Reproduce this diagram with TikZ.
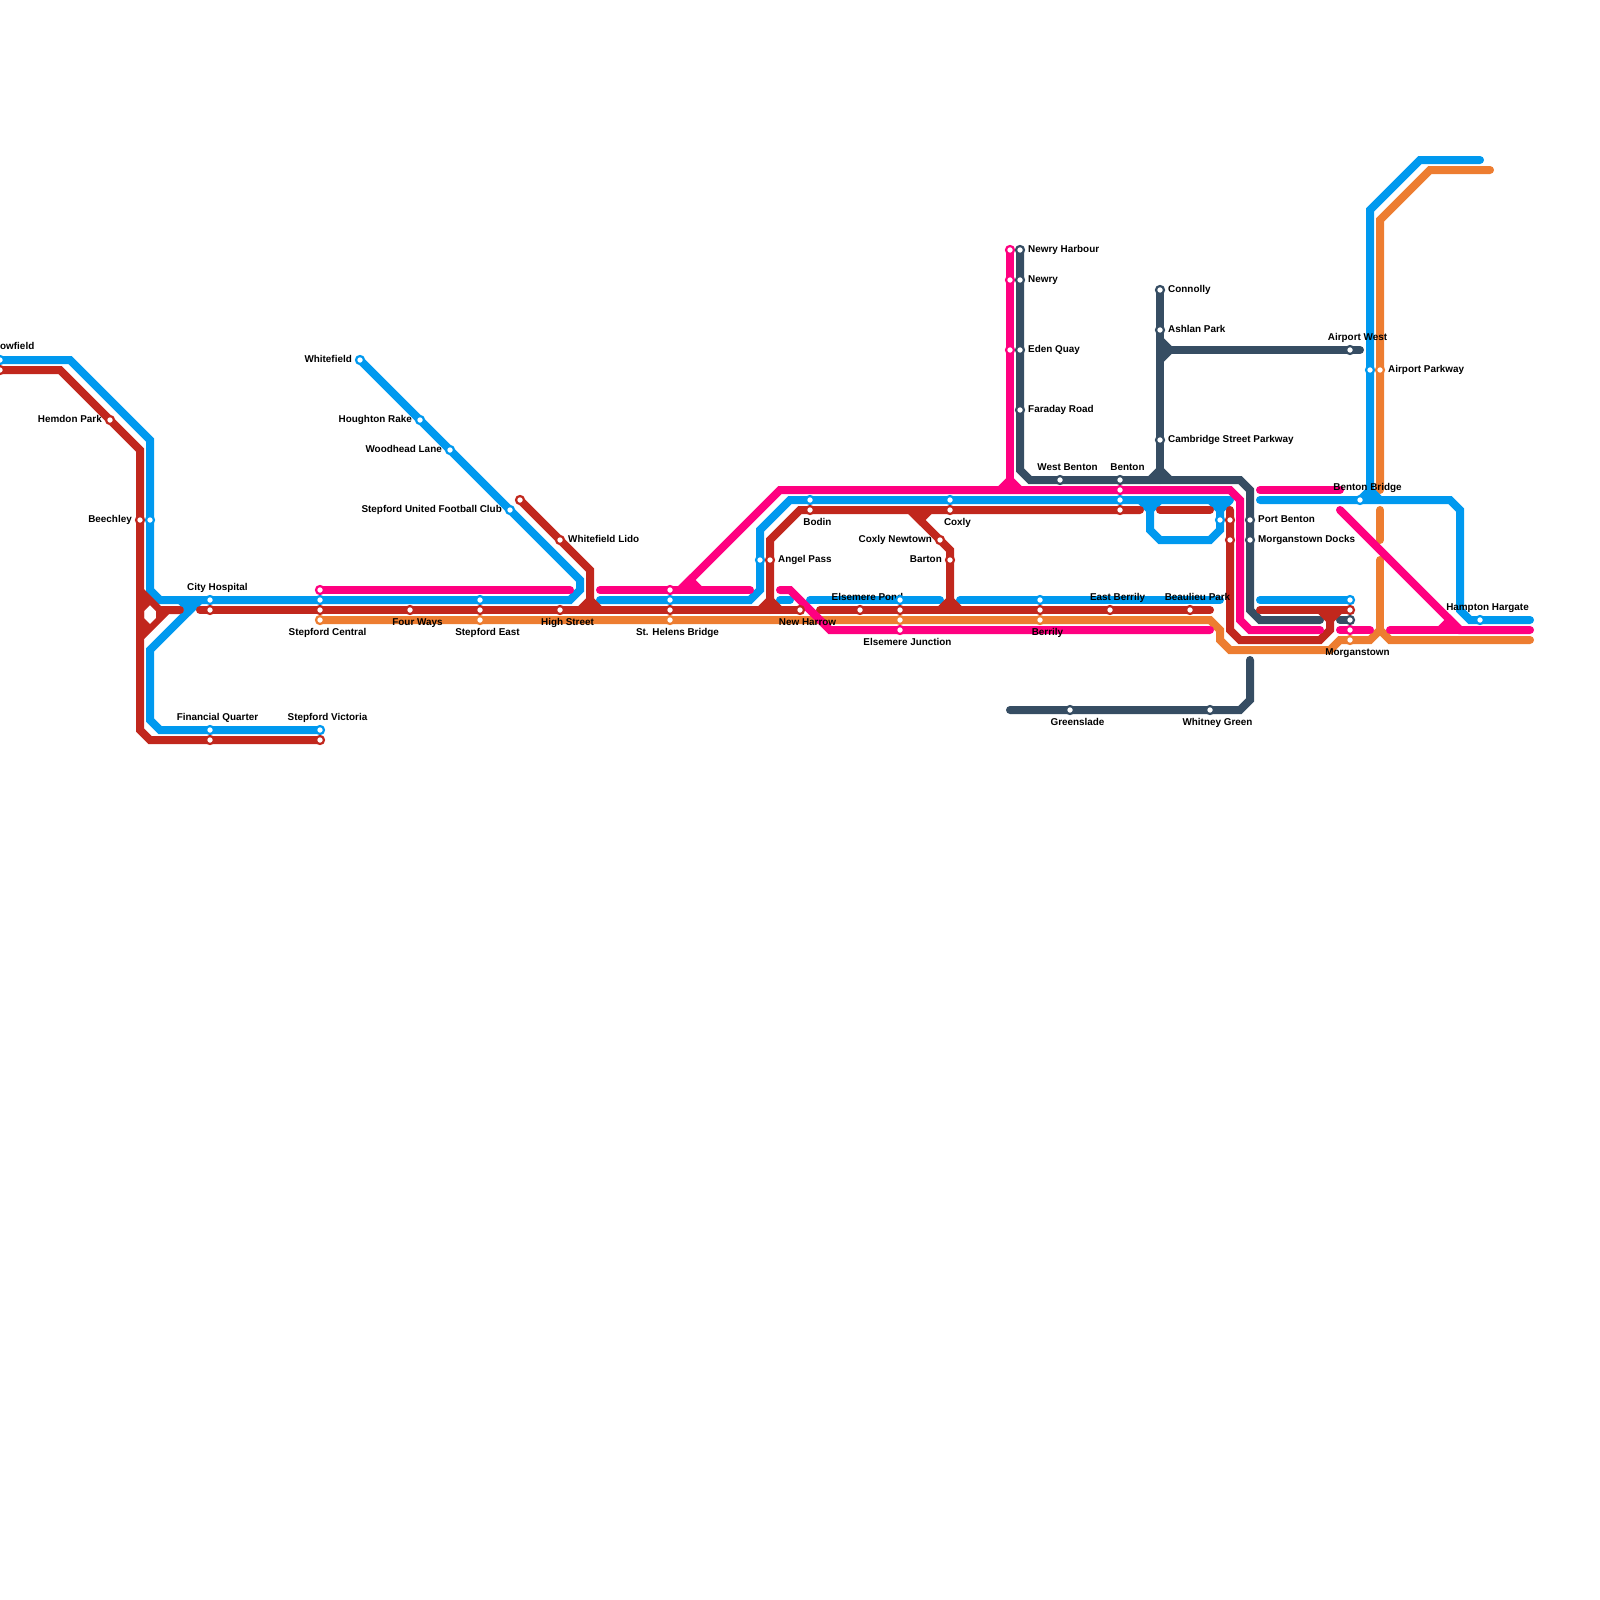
\documentclass[tikz,border=0pt]{standalone}
\usepackage{fontspec}
\setmainfont{Liberation Sans}
\pgfdeclarelayer{lines}
\pgfdeclarelayer{labels}
\pgfsetlayers{lines,labels,main}
\definecolor{cblue}{HTML}{0099EF}
\definecolor{cred}{HTML}{C1271D}
\definecolor{cpink}{HTML}{FF0080}
\definecolor{corange}{HTML}{ED7D31}
\definecolor{cdark}{HTML}{364D63}
\tikzset{
  x=1pt,y=-1pt,
  stn/.style={circle,fill=white,line width=2.2pt,inner sep=0pt,minimum size=8pt,draw=#1},
  route/.style={line width=8pt,line cap=round,line join=miter,draw=#1},
  lab/.style={font=\bfseries\fontsize{9.9}{12}\selectfont,text=black,inner sep=0pt},
  labR/.style={lab,anchor=base west},
  labL/.style={lab,anchor=base east},
  labC/.style={lab,anchor=base}
}
\newcommand\st[4]{\node[stn=#1] (#2) at (#3,#4) {};}
\newcommand\jup[3]{\fill[#1] (#2,#3) ++(0,-15.7) -- ++(12.8,12.9) -- ++(-5.8,5.8) -- ++(-14,0) -- ++(-5.8,-5.8) -- cycle;}
\newcommand\jdn[3]{\fill[#1] (#2,#3) ++(0,15.7) -- ++(12.8,-12.9) -- ++(-5.8,-5.8) -- ++(-14,0) -- ++(-5.8,5.8) -- cycle;}
\begin{document}
\begin{tikzpicture}
\path[clip] (0,0) rectangle (1600,1600);
% stations: blue
\st{cblue}{bOw}{0}{360}\st{cblue}{bBee}{150}{520}\st{cblue}{bCity}{210}{600}\st{cblue}{bSC}{320}{600}
\st{cblue}{bSE}{480}{600}\st{cblue}{bWf}{360}{360}\st{cblue}{bHR}{420}{420}\st{cblue}{bWL}{450}{450}
\st{cblue}{bUFC}{510}{510}\st{cblue}{bSV}{320}{730}\st{cblue}{bFQ}{210}{730}\st{cblue}{bSH}{670}{600}
\st{cblue}{bAng}{760}{560}\st{cblue}{bBod}{810}{500}\st{cblue}{bCox}{950}{500}\st{cblue}{bBen}{1120}{500}
\st{cblue}{bLoop}{1220}{520}\st{cblue}{bEJ}{900}{600}\st{cblue}{bBer}{1040}{600}\st{cblue}{bMor}{1350}{600}
\st{cblue}{bBB}{1360}{500}\st{cblue}{bHH}{1480}{620}\st{cblue}{bAir}{1370}{370}
% red
\st{cred}{rOw}{0}{370}\st{cred}{rHem}{110}{420}\st{cred}{rBee}{140}{520}\st{cred}{rCity}{210}{610}
\st{cred}{rFQ}{210}{740}\st{cred}{rSV}{320}{740}\st{cred}{rSC}{320}{610}\st{cred}{rFW}{410}{610}
\st{cred}{rSE}{480}{610}\st{cred}{rHS}{560}{610}\st{cred}{rSH}{670}{610}\st{cred}{rAng}{770}{560}
\st{cred}{rNH}{800}{610}\st{cred}{rBod}{810}{510}\st{cred}{rCox}{950}{510}\st{cred}{rBen}{1120}{510}
\st{cred}{rCN}{940}{540}\st{cred}{rBar}{950}{560}\st{cred}{rEP}{860}{610}\st{cred}{rEJ}{900}{610}
\st{cred}{rBer}{1040}{610}\st{cred}{rEB}{1110}{610}\st{cred}{rBP}{1190}{610}\st{cred}{rPB}{1230}{520}
\st{cred}{rMD}{1230}{540}\st{cred}{rMor}{1350}{610}\st{cred}{rWS}{520}{500}\st{cred}{rLido}{560}{540}
% orange
\st{corange}{oSC}{320}{620}\st{corange}{oSE}{480}{620}\st{corange}{oSH}{670}{620}\st{corange}{oEJ}{900}{620}
\st{corange}{oBer}{1040}{620}\st{corange}{oMor}{1350}{640}\st{corange}{oAir}{1380}{370}
% pink
\st{cpink}{pSC}{320}{590}\st{cpink}{pSH}{670}{590}\st{cpink}{pNH}{1010}{250}\st{cpink}{pN}{1010}{280}
\st{cpink}{pEQ}{1010}{350}\st{cpink}{pBen}{1120}{490}\st{cpink}{pEJ}{900}{630}\st{cpink}{pMor}{1350}{630}
% dark
\st{cdark}{dNH}{1020}{250}\st{cdark}{dN}{1020}{280}\st{cdark}{dEQ}{1020}{350}\st{cdark}{dFR}{1020}{410}
\st{cdark}{dWB}{1060}{480}\st{cdark}{dBen}{1120}{480}\st{cdark}{dCon}{1160}{290}\st{cdark}{dAsh}{1160}{330}
\st{cdark}{dCam}{1160}{440}\st{cdark}{dAW}{1350}{350}\st{cdark}{dPB}{1250}{520}\st{cdark}{dMD}{1250}{540}
\st{cdark}{dMor}{1350}{620}\st{cdark}{dGr}{1070}{710}\st{cdark}{dWG}{1210}{710}

\begin{pgfonlayer}{lines}
% orange
\draw[route=corange] (oSC.center) -- (1210,620) -- (1220,630) -- (1220,640) -- (1230,650) -- (1330,650) -- (1340,640) -- (oMor.center) -- (1370,640) -- (1380,630) -- (1390,640) -- (1530,640);
\draw[route=corange] (1490,170) -- (1430,170) -- (1380,220) -- (oAir.center) -- (1380,490);
\draw[route=corange] (1380,510) -- (1380,540);
\draw[route=corange] (1380,560) -- (1380,630);
% dark
\draw[route=cdark] (dNH.center) -- (dFR.center) -- (1020,470) -- (1030,480) -- (1240,480) -- (1250,490) -- (dMD.center) -- (1250,610) -- (1260,620) -- (1320,620);
\draw[route=cdark] (1340,620) -- (dMor.center);
\draw[route=cdark] (dCon.center) -- (1160,480);
\draw[route=cdark] (1160,350) -- (1360,350);
\draw[route=cdark] (1010,710) -- (1240,710) -- (1250,700) -- (1250,660);
\jup{cdark}{1160}{480}
\fill[cdark] (1175.7,350) -- (1162.8,337.2) -- (1157,343) -- (1157,357) -- (1162.8,362.8) -- cycle;
% blue
\draw[route=cblue] (bOw.center) -- (70,360) -- (150,440) -- (150,590) -- (160,600) -- (570,600) -- (580,590) -- (580,580) -- (bWf.center);
\draw[route=cblue] (200,600) -- (150,650) -- (150,720) -- (160,730) -- (bSV.center);
\draw[route=cblue] (600,600) -- (750,600) -- (760,590) -- (760,530) -- (790,500) -- (1230,500);
\draw[route=cblue] (1150,500) -- (1150,530) -- (1160,540) -- (1210,540) -- (1220,530) -- (1220,500);
\draw[route=cblue] (780,600) -- (790,600);
\draw[route=cblue] (810,600) -- (940,600);
\draw[route=cblue] (960,600) -- (1220,600);
\draw[route=cblue] (1260,600) -- (bMor.center);
\draw[route=cblue] (1260,500) -- (1450,500) -- (1460,510) -- (1460,610) -- (1470,620) -- (1530,620);
\draw[route=cblue] (1370,500) -- (bAir.center) -- (1370,210) -- (1420,160) -- (1480,160);
\jdn{cblue}{190}{600}
\jdn{cblue}{1150}{500}
\jdn{cblue}{1220}{500}
\jup{cblue}{1370}{500}
% red
\draw[route=cred] (rOw.center) -- (60,370) -- (140,450) -- (140,730) -- (150,740) -- (rSV.center);
\fill[cred,even odd rule] (143,588) -- (161,606) -- (180,606) -- (180,614) -- (169,614) -- (143,640) -- (138,640) -- (138,588) -- cycle
  (144,611) -- (150,605) -- (156,611) -- (156,618) -- (150,624) -- (144,618) -- cycle;
\draw[route=cred] (178,610) -- (180,610);
\draw[route=cred] (200,610) -- (rNH.center);
\draw[route=cred] (820,610) -- (1210,610);
\draw[route=cred] (rWS.center) -- (590,570) -- (590,610);
\draw[route=cred] (770,610) -- (770,540) -- (800,510) -- (1140,510);
\draw[route=cred] (1160,510) -- (1210,510);
\draw[route=cred] (910,510) -- (950,550) -- (950,610);
\draw[route=cred] (1230,510) -- (1230,630) -- (1240,640) -- (1320,640) -- (1330,630) -- (1330,610);
\draw[route=cred] (1260,610) -- (rMor.center);
\jup{cred}{590}{610}
\jup{cred}{770}{610}
\jup{cred}{950}{610}
\jdn{cred}{920}{510}
\jdn{cred}{1330}{610}
% pink
\draw[route=cpink] (pSC.center) -- (570,590);
\draw[route=cpink] (600,590) -- (750,590);
\draw[route=cpink] (680,590) -- (780,490) -- (1230,490) -- (1240,500) -- (1240,620) -- (1250,630) -- (1320,630);
\draw[route=cpink] (pNH.center) -- (1010,490);
\draw[route=cpink] (780,590) -- (790,590) -- (830,630) -- (1210,630);
\draw[route=cpink] (1260,490) -- (1340,490);
\draw[route=cpink] (1340,510) -- (1460,630) -- (1530,630);
\draw[route=cpink] (1390,630) -- (1460,630);
\draw[route=cpink] (1340,630) -- (1370,630);
\jup{cpink}{690}{590}
\jup{cpink}{1010}{490}
\jup{cpink}{1450}{630}
\end{pgfonlayer}

\begin{pgfonlayer}{labels}
\node[labR] (l1) at (0,349) {owfield};
\node[labL] (l2) at (102,422.5) {Hemdon Park};
\node[labL] (l3) at (132,522.5) {Beechley};
\node[labC] (l4) at (217.5,590) {City Hospital};
\node[labC] (l5) at (217.5,720) {Financial Quarter};
\node[labC] (l6) at (327.5,720) {Stepford Victoria};
\node[labC] (l7) at (327.5,635.2) {Stepford Central};
\node[labL] (l8) at (352,362.5) {Whitefield};
\node[labL] (l9) at (412,422.5) {Houghton Rake};
\node[labL] (l10) at (442,452.5) {Woodhead Lane};
\node[labL] (l11) at (502,512.5) {Stepford United Football Club};
\node[labR] (l12) at (568,542.5) {Whitefield Lido};
\node[labC] (l13) at (417.5,625) {Four Ways};
\node[labC] (l14) at (487.5,635.2) {Stepford East};
\node[labC] (l15) at (567.5,625) {High Street};
\node[labC] (l16) at (677.5,635.2) {St. Helens Bridge};
\node[labR] (l17) at (778,562.5) {Angel Pass};
\node[labC] (l18) at (817.5,525) {Bodin};
\node[labC] (l19) at (807.5,625) {New Harrow};
\node[labC] (l20) at (867.5,600) {Elsemere Pond};
\node[labC] (l21) at (907.5,645.2) {Elsemere Junction};
\node[labC] (l22) at (957.5,525) {Coxly};
\node[labL] (l23) at (932,542.5) {Coxly Newtown};
\node[labL] (l24) at (942,562.5) {Barton};
\node[labC] (l25) at (1047.5,635.2) {Berrily};
\node[labC] (l26) at (1117.5,600) {East Berrily};
\node[labC] (l27) at (1197.5,600) {Beaulieu Park};
\node[labC] (l28) at (1067.5,470) {West Benton};
\node[labC] (l29) at (1127.5,470) {Benton};
\node[labR] (l30) at (1028,252.5) {Newry Harbour};
\node[labR] (l31) at (1028,282.5) {Newry};
\node[labR] (l32) at (1028,352.5) {Eden Quay};
\node[labR] (l33) at (1028,412.5) {Faraday Road};
\node[labR] (l34) at (1168,292.5) {Connolly};
\node[labR] (l35) at (1168,332.5) {Ashlan Park};
\node[labR] (l36) at (1168,442.5) {Cambridge Street Parkway};
\node[labC] (l37) at (1357.5,340) {Airport West};
\node[labR] (l38) at (1388,372.5) {Airport Parkway};
\node[labC] (l39) at (1367.5,490) {Benton Bridge};
\node[labR] (l40) at (1258,522.5) {Port Benton};
\node[labR] (l41) at (1258,542.5) {Morganstown Docks};
\node[labC] (l42) at (1487.5,610) {Hampton Hargate};
\node[labC] (l43) at (1357.5,655.2) {Morganstown};
\node[labC] (l44) at (1077.5,725.2) {Greenslade};
\node[labC] (l45) at (1217.5,725.2) {Whitney Green};
\end{pgfonlayer}
\end{tikzpicture}
\end{document}
